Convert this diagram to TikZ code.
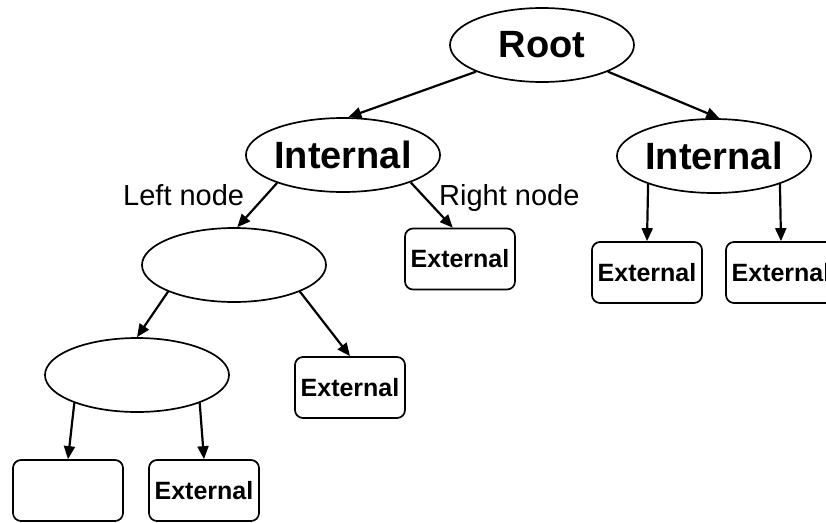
\documentclass[tikz,border=0pt]{standalone}
\usepackage{fontspec}
\setmainfont{Liberation Sans}
\usetikzlibrary{arrows.meta,shapes.geometric}
\begin{document}
\begin{tikzpicture}[x=1pt,y=-1pt,
  inner/.style={ellipse,draw,line width=1.7pt,minimum width=184pt,minimum height=74pt,
    inner sep=0pt,font=\fontsize{38}{40}\selectfont\bfseries},
  leaf/.style={draw,rounded corners=8pt,line width=1.7pt,minimum width=110pt,
    minimum height=61pt,inner sep=0pt,font=\fontsize{25}{27}\selectfont\bfseries},
  link/.style={line width=2.2pt,-{Triangle[length=13pt,width=11pt]}},
  side/.style={font=\fontsize{29}{31}\selectfont,inner sep=0pt}]
\useasboundingbox (0,0) rectangle (826,522);
\clip (0,0) rectangle (826,522);

% interior nodes
\node[inner] (root) at (542,45)  {Root};
\node[inner] (intL) at (343,155) {Internal};
\node[inner] (intR) at (714,156) {Internal};
\node[inner] (midA) at (234,265) {};
\node[inner] (lowA) at (137,375) {};

% leaves
\node[leaf] (extL)  at (460,259)   {External};
\node[leaf] (extR1) at (647,272.5) {External};
\node[leaf] (extR2) at (781,272.5) {External};
\node[leaf] (extM)  at (350,387.5) {External};
\node[leaf] (botA)  at (68,490.5)  {};
\node[leaf] (botB)  at (204,490.5) {External};

% side labels
\node[side,anchor=base west] (lblL) at (123,205) {Left node};
\node[side,anchor=base west] (lblR) at (439,205) {Right node};

% edges
\draw[link] (root.-158) -- (intL.82);
\draw[link] (root.-22)  -- (intR.82);
\draw[link] (intL.-157) -- (midA.85);
\draw[link] (intL.-22)  -- (extL.103);
\draw[link] (midA.-158) -- (lowA.north);
\draw[link] (midA.-22)  -- (extM.north);
\draw[link] (lowA.-156) -- (botA.north);
\draw[link] (lowA.-24)  -- (botB.north);
\draw[link] (intR.-157) -- (extR1.north);
\draw[link] (intR.-23)  -- (extR2.north);
\end{tikzpicture}
\end{document}
